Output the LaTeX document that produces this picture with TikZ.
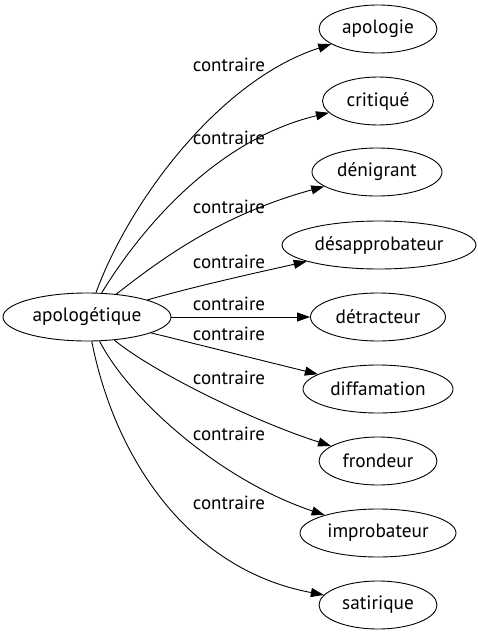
\documentclass[tikz,border=0pt]{standalone}
\usepackage{fontspec}
\setmainfont{PT Sans}
\usetikzlibrary{shapes.geometric,arrows.meta}
\tikzset{
  x=1pt,y=-1pt,
  word/.style={draw,ellipse,line width=0.9pt,inner sep=0pt,minimum height=48pt,font=\fontsize{19.3}{22}\selectfont},
  lbl/.style={font=\fontsize{19}{22}\selectfont,inner sep=0pt},
  edge/.style={line width=0.9pt,-{Triangle[length=13pt,width=9pt]}}
}
\begin{document}
\begin{tikzpicture}
\useasboundingbox (0,0) rectangle (478,635);
\node[word,minimum width=168pt] (src) at (87,317) {apologétique};
\node[word,minimum width=118pt] (t1) at (378,29) {apologie};
\node[word,minimum width=111pt] (t2) at (378,101) {critiqué};
\node[word,minimum width=130pt] (t3) at (377,172) {dénigrant};
\node[word,minimum width=194pt] (t4) at (379,245) {désapprobateur};
\node[word,minimum width=135pt] (t5) at (378,317) {détracteur};
\node[word,minimum width=150pt] (t6) at (378,389) {diffamation};
\node[word,minimum width=118pt] (t7) at (378,461) {frondeur};
\node[word,minimum width=156pt] (t8) at (378,533) {improbateur};
\node[word,minimum width=118pt] (t9) at (378,605) {satirique};
\node[lbl] (l1) at (229,65) {contraire};
\node[lbl] (l2) at (229,138) {contraire};
\node[lbl] (l3) at (229,207) {contraire};
\node[lbl] (l4) at (229,262) {contraire};
\node[lbl] (l5) at (229,304) {contraire};
\node[lbl] (l6) at (229,334) {contraire};
\node[lbl] (l7) at (229,378) {contraire};
\node[lbl] (l8) at (229,434) {contraire};
\node[lbl] (l9) at (229,503) {contraire};
\draw[edge] (src) .. controls (130,200) and (220,80) .. (t1);
\draw[edge] (src) .. controls (140,230) and (215,140) .. (t2);
\draw[edge] (src) .. controls (160,260) and (220,215) .. (t3);
\draw[edge] (src) .. controls (200,285) and (260,272) .. (t4);
\draw[edge] (src) -- (t5);
\draw[edge] (src) .. controls (200,345) and (260,360) .. (t6);
\draw[edge] (src) .. controls (150,370) and (250,420) .. (t7);
\draw[edge] (src) .. controls (130,400) and (220,480) .. (t8);
\draw[edge] (src) .. controls (115,460) and (190,570) .. (t9);
\end{tikzpicture}
\end{document}
